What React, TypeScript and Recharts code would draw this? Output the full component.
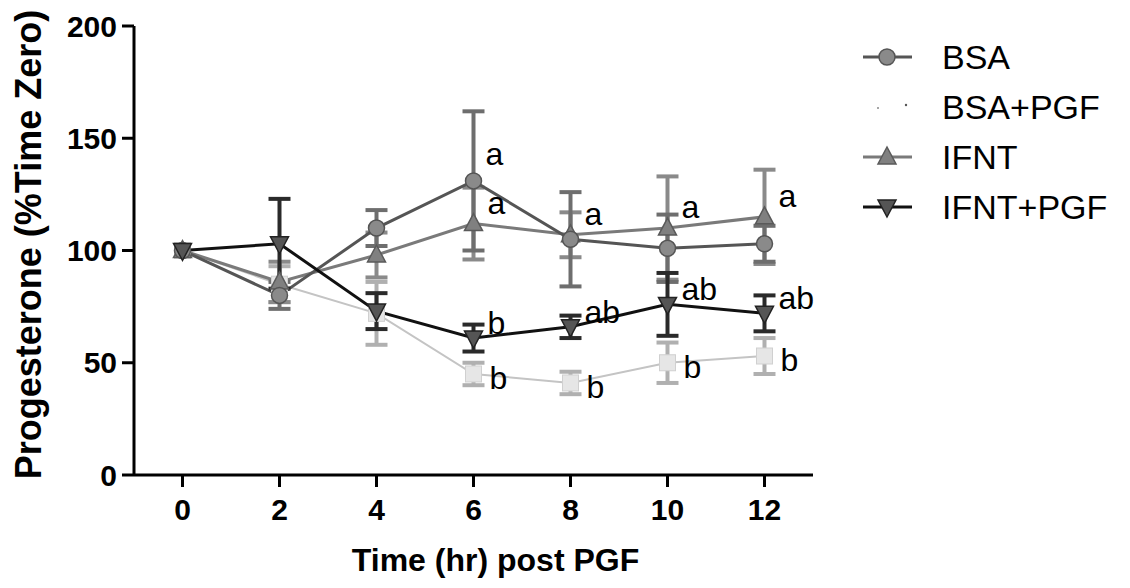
import React from 'react';
import { LineChart, Line, XAxis, YAxis, ErrorBar, LabelList, Legend } from 'recharts';

const times = [0, 2, 4, 6, 8, 10, 12];

// means (% of time zero) and SEM
const bsa = [100, 80, 110, 131, 105, 101, 103];
const bsaErr = [null, 6, 8, 31, 21, 15, 8];
const bsaPgf = [100, 85, 72, 45, 41, 50, 53];
const bsaPgfErr = [null, 8, 14, 5, 5, 9, 8];
const ifnt = [100, 86, 98, 112, 107, 110, 115];
const ifntErr = [null, 9, 10, 16, 10, 23, 21];
const ifntPgf = [100, 103, 73, 61, 66, 76, 72];
const ifntPgfErr = [null, 20, 8, 6, 5, 14, 8];

// significance letters
const bsaLetters = [null, null, null, 'a', null, null, null];
const bsaPgfLetters = [null, null, null, 'b', 'b', 'b', 'b'];
const ifntLetters = [null, null, null, 'a', 'a', 'a', 'a'];
const ifntPgfLetters = [null, null, null, 'b', 'ab', 'ab', 'ab'];

const yTicks = [0, 50, 100, 150, 200];
const xTicks = [0, 2, 4, 6, 8, 10, 12];

const data = times.map((t, i) => ({
  time: t,
  bsa: bsa[i],
  bsaErr: bsaErr[i],
  bsaL: bsaLetters[i],
  bsaPgf: bsaPgf[i],
  bsaPgfErr: bsaPgfErr[i],
  bsaPgfL: bsaPgfLetters[i],
  ifnt: ifnt[i],
  ifntErr: ifntErr[i],
  ifntL: ifntLetters[i],
  ifntPgf: ifntPgf[i],
  ifntPgfErr: ifntPgfErr[i],
  ifntPgfL: ifntPgfLetters[i],
}));

const FONT = '"Liberation Sans", Arial, Helvetica, sans-serif';

const shapeAt = (kind: string, cx: number, cy: number, fill: string, stroke: string, key?: any) => {
  if (kind === 'circle') {
    return <circle key={key} cx={cx} cy={cy} r={8} fill={fill} stroke={stroke} strokeWidth={1.5} />;
  }
  if (kind === 'square') {
    return <rect key={key} x={cx - 8} y={cy - 8} width={16} height={16} fill={fill} stroke={stroke} strokeWidth={1} />;
  }
  if (kind === 'up') {
    return (
      <polygon key={key} points={`${cx},${cy - 10} ${cx - 9},${cy + 7} ${cx + 9},${cy + 7}`}
        fill={fill} stroke={stroke} strokeWidth={1.5} />
    );
  }
  return (
    <polygon key={key} points={`${cx - 9},${cy - 7} ${cx + 9},${cy - 7} ${cx},${cy + 10}`}
      fill={fill} stroke={stroke} strokeWidth={1.5} />
  );
};

const makeDot = (kind: string, fill: string, stroke: string) => (props: any) => {
  const { cx, cy, index } = props;
  if (cx == null || cy == null) return <g key={`d${index}`} />;
  return shapeAt(kind, cx, cy, fill, stroke, `d${index}`);
};

const letterLabel = (dx: number, dy: number) => (props: any) => {
  const { x, y, value, index } = props;
  if (!value) return null;
  return (
    <text key={`l${index}`} x={x + dx} y={y + dy} fontSize={32} fontFamily={FONT}
      dominantBaseline="central" fill="#000">
      {value}
    </text>
  );
};

const series = [
  { key: 'bsaPgf', name: 'BSA+PGF', line: '#c4c4c4', fill: '#e6e6e6', edge: '#d0d0d0', bar: '#b0b0b0', kind: 'square', width: 2, ldx: 16, ldy: 4 },
  { key: 'ifnt', name: 'IFNT', line: '#7a7a7a', fill: '#808080', edge: '#5a5a5a', bar: '#8a8a8a', kind: 'up', width: 3, ldx: 14, ldy: -21 },
  { key: 'bsa', name: 'BSA', line: '#555555', fill: '#8a8a8a', edge: '#555555', bar: '#6e6e6e', kind: 'circle', width: 3, ldx: 12, ldy: -27 },
  { key: 'ifntPgf', name: 'IFNT+PGF', line: '#111111', fill: '#555555', edge: '#222222', bar: '#2a2a2a', kind: 'down', width: 3, ldx: 14, ldy: -15 },
];

const legendOrder = ['bsa', 'bsaPgf', 'ifnt', 'ifntPgf'];

const renderLegend = () => (
  <div style={{ fontFamily: FONT }}>
    {legendOrder.map((k) => {
      const s = series.find((x) => x.key === k)!;
      const faint = k === 'bsaPgf';
      return (
        <div key={k} style={{ display: 'flex', alignItems: 'center', height: 50 }}>
          <svg width={80} height={30}>
            {!faint && <line x1={5} y1={15} x2={54} y2={15} stroke={s.line} strokeWidth={3} />}
            {faint
              ? <g><circle cx={20} cy={16} r={1} fill="#888" /><circle cx={48} cy={13} r={1.2} fill="#555" /></g>
              : shapeAt(s.kind, 29, 15, s.fill, s.edge)}
          </svg>
          <span style={{ fontSize: 34, color: '#000', marginLeft: 4 }}>{s.name}</span>
        </div>
      );
    })}
  </div>
);

const yTitle = (props: any) => {
  const vb = props.viewBox || {};
  const cx = 28;
  const cy = (vb.y ?? 26) + (vb.height ?? 449) / 2 - 6;
  return (
    <text x={cx} y={cy} transform={`rotate(-90, ${cx}, ${cy})`} textAnchor="middle"
      dominantBaseline="central" fontFamily={FONT} fontWeight="bold" fontSize={36} fill="#000">
      Progesterone (%Time Zero)
    </text>
  );
};

const xTitle = (props: any) => {
  const vb = props.viewBox || {};
  const cx = (vb.x ?? 134) + (vb.width ?? 679) / 2 + 22;
  const cy = (vb.y ?? 475) + 96;
  return (
    <text x={cx} y={cy} textAnchor="middle" fontFamily={FONT} fontWeight="bold" fontSize={32} fill="#000">
      Time (hr) post PGF
    </text>
  );
};

const tickStyle = { fontSize: 30, fontWeight: 'bold', fill: '#000', fontFamily: FONT };

export default function App() {
  return (
    <div style={{ position: 'absolute', left: 0, top: 0, background: '#fff' }}>
      <LineChart width={1130} height={588} data={data}
        margin={{ top: 26, right: 317, bottom: 0, left: 0 }}>
        <XAxis dataKey="time" type="number" domain={[-1, 13]} ticks={xTicks} height={113}
          axisLine={{ stroke: '#000', strokeWidth: 3 }} tickLine={{ stroke: '#000', strokeWidth: 3 }}
          tickSize={12} tickMargin={12} tick={tickStyle} label={xTitle} />
        <YAxis type="number" domain={[0, 200]} ticks={yTicks} width={134}
          axisLine={{ stroke: '#000', strokeWidth: 3 }} tickLine={{ stroke: '#000', strokeWidth: 3 }}
          tickSize={12} tickMargin={5} tick={tickStyle} label={yTitle} />
        <Legend layout="horizontal" verticalAlign="middle" align="center" content={renderLegend}
          wrapperStyle={{ left: 858, top: 32, width: 270 }} />
        {series.map((s) => (
          <Line key={s.key} dataKey={s.key} name={s.name} type="linear" stroke={s.line}
            strokeWidth={s.width} dot={makeDot(s.kind, s.fill, s.edge)} activeDot={false}
            isAnimationActive={false}>
            <ErrorBar dataKey={`${s.key}Err`} direction="y" width={11} strokeWidth={4}
              stroke={s.bar} isAnimationActive={false} />
            <LabelList dataKey={`${s.key}L`} content={letterLabel(s.ldx, s.ldy)} />
          </Line>
        ))}
      </LineChart>
    </div>
  );
}
